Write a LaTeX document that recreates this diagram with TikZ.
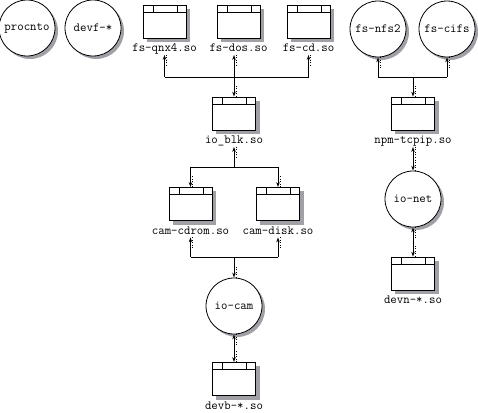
\documentclass[tikz,border=0pt]{standalone}
\usepackage{fontspec}
\usetikzlibrary{arrows.meta,positioning,backgrounds}
\definecolor{shadowgray}{RGB}{160,160,166}

\tikzset{
  modbox/.style={draw, fill=white, minimum width=43pt, minimum height=33pt, inner sep=0pt,
    path picture={
      \draw ([yshift=-7pt]path picture bounding box.north west) -- ([yshift=-7pt]path picture bounding box.north east);
      \draw ([xshift=10pt]path picture bounding box.north west) -- ++(0,-7pt);
      \draw ([xshift=-9pt]path picture bounding box.north east) -- ++(0,-7pt);
    }},
  proc/.style={circle, draw, fill=white, minimum size=56pt, inner sep=0pt,
    font=\ttfamily\fontsize{12.5}{14}\selectfont},
  lbl/.style={font=\ttfamily\fontsize{12.5}{14}\selectfont, inner sep=0pt, outer sep=1pt,
    text height=7.5pt, text depth=2pt},
  shadowfill/.style={fill=shadowgray, draw=none},
  link/.style={-{Stealth[length=5pt,width=3.5pt]}},
  link2/.style={{Stealth[length=5pt,width=3.5pt]}-{Stealth[length=5pt,width=3.5pt]}},
  dotline/.style={line width=0.7pt, dash pattern=on 1pt off 1.5pt},
}
\newcommand{\dotup}[1]{\draw[dotline] ([xshift=2pt]#1) -- ++(0,-11pt);}
\newcommand{\dotdown}[1]{\draw[dotline] ([xshift=2pt]#1) -- ++(0,11pt);}

\begin{document}
\begin{tikzpicture}[x=1pt,y=-1pt,line width=0.8pt]
\useasboundingbox (0,0) rectangle (478,412);

% processes
\node[proc] (procnto) at (27,28) {procnto};
\node[proc] (devf) at (93,28) {devf-*};
\node[proc] (nfs) at (378,29) {fs-nfs2};
\node[proc] (cifs) at (447,29) {fs-cifs};
\node[proc] (iocam) at (234,306) {io-cam};
\node[proc] (ionet) at (413,199) {io-net};

% shared objects
\node[modbox] (qnx) at (164.5,21.5) {};
\node[lbl, below=5pt of qnx] (qnxl) {fs-qnx4.so};
\node[modbox] (dos) at (238.5,21.5) {};
\node[lbl, below=5pt of dos] (dosl) {fs-dos.so};
\node[modbox] (cd) at (308.5,21.5) {};
\node[lbl, below=5pt of cd] (cdl) {fs-cd.so};
\node[modbox] (blk) at (234,113.5) {};
\node[lbl, below=5pt of blk] (blkl) {io\_blk.so};
\node[modbox] (cdrom) at (190.5,204) {};
\node[lbl, below=5pt of cdrom] (cdroml) {cam-cdrom.so};
\node[modbox] (disk) at (278,204) {};
\node[lbl, below=5pt of disk] (diskl) {cam-disk.so};
\node[modbox] (devb) at (234,379) {};
\node[lbl, below=5pt of devb] (devbl) {devb-*.so};
\node[modbox] (npm) at (413,113.5) {};
\node[lbl, below=5pt of npm] (npml) {npm-tcpip.so};
\node[modbox] (devn) at (413,273.5) {};
\node[lbl, below=5pt of devn] (devnl) {devn-*.so};

% shadows
\begin{scope}[on background layer]
\foreach \n in {qnx,dos,cd,blk,cdrom,disk,devb,npm,devn}
  \fill[shadowfill] ([shift={(4pt,-4pt)}]\n.south west) rectangle ([shift={(4pt,-4pt)}]\n.north east);
\foreach \n in {procnto,devf,nfs,cifs,iocam,ionet}
  \fill[shadowfill] ([shift={(3pt,-3pt)}]\n.center) circle (28pt);
\end{scope}

% bus levels
\coordinate (bus1) at (0,77);
\coordinate (bus2) at (0,167);
\coordinate (bus3) at (0,257);
\coordinate (bus4) at (0,77);

% filesystems <-> io_blk
\draw (qnxl.south |- bus1) -- (cdl.south |- bus1);
\coordinate (dtip) at (blk.north |- dosl.south);
\draw[link] (qnxl.south |- bus1) -- (qnxl.south);
\draw[link] (blk.north |- bus1) -- (dtip);
\draw[link] (cdl.south |- bus1) -- (cdl.south);
\draw[link] (blk.north |- bus1) -- (blk.north);
\dotup{qnxl.south} \dotup{dtip} \dotup{cdl.south}
\dotdown{blk.north}

% io_blk <-> cam modules
\draw (cdrom.north |- bus2) -- (disk.north |- bus2);
\draw[link] (blkl.south |- bus2) -- (blkl.south);
\draw[link] (cdrom.north |- bus2) -- (cdrom.north);
\draw[link] (disk.north |- bus2) -- (disk.north);
\dotup{blkl.south}
\dotdown{cdrom.north} \dotdown{disk.north}

% cam modules <-> io-cam
\draw (cdrom.south |- bus3) -- (disk.south |- bus3);
\draw[link] (cdroml.south |- bus3) -- (cdroml.south);
\draw[link] (diskl.south |- bus3) -- (diskl.south);
\draw[link] (iocam.north |- bus3) -- (iocam.north);
\dotup{cdroml.south} \dotup{diskl.south}
\dotdown{iocam.north}

% io-cam <-> devb
\draw[link2] (iocam.south) -- (devb.north);
\dotup{iocam.south} \dotdown{devb.north}

% network side
\draw (nfs.south |- bus4) -- (cifs.south |- bus4);
\draw[link] (nfs.south |- bus4) -- (nfs.south);
\draw[link] (cifs.south |- bus4) -- (cifs.south);
\draw[link] (npm.north |- bus4) -- (npm.north);
\dotup{nfs.south} \dotup{cifs.south}
\dotdown{npm.north}
\draw[link2] (npml.south) -- (ionet.north);
\dotup{npml.south} \dotdown{ionet.north}
\draw[link2] (ionet.south) -- (devn.north);
\dotup{ionet.south} \dotdown{devn.north}
\end{tikzpicture}
\end{document}
